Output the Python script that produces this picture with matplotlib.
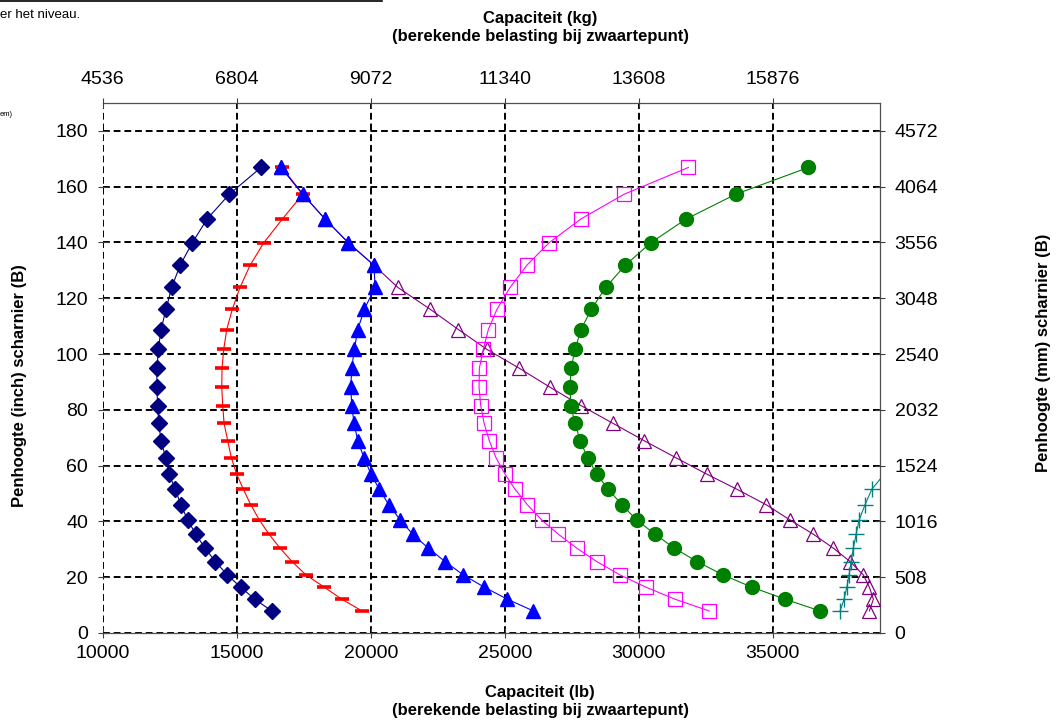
import matplotlib
matplotlib.use("Agg")
import matplotlib.pyplot as plt

plt.rcParams['font.family'] = ['Liberation Sans', 'DejaVu Sans']

# pen height (inch), shared by all load curves
height_in = [7.9, 12.1, 16.4, 20.8, 25.6, 30.4, 35.4, 40.5, 46.0, 51.5, 56.9, 62.8, 68.9,
             75.2, 81.5, 88.1, 94.9, 101.7, 108.8, 116.1, 123.9, 131.8, 139.9, 148.4, 157.3, 166.9]

# capacity (lb) per curve, bottom to top
cap_navy = [16305, 15671, 15149, 14649, 14201, 13817, 13470, 13171, 12910, 12709, 12474, 12350, 12175,
            12089, 12052, 12015, 12026, 12074, 12175, 12362, 12574, 12884, 13343, 13891, 14723, 15906]
cap_red = [19674, 18917, 18268, 17585, 17063, 16615, 16205, 15843, 15522, 15246, 15000, 14798, 14664,
           14526, 14477, 14440, 14451, 14514, 14626, 14835, 15123, 15496, 16007, 16701, 17462, 16690]
cap_blue = [26066, 25096, 24238, 23454, 22771, 22148, 21566, 21100, 20670, 20320, 20010, 19749, 19514,
            19376, 19290, 19253, 19290, 19388, 19515, 19761, 20160, 20122, 19164, 18294, 17462, 16652]
cap_purple = [38602, 38751, 38602, 38378, 37882, 37259, 36513, 35643, 34748, 33666, 32546, 31390, 30207,
              29028, 27845, 26689, 25543, 24327, 23268, 22212, 21007, 20122, 19164, 18294, 17462, 16652]
cap_magenta = [32621, 31352, 30270, 29300, 28431, 27685, 26998, 26379, 25842, 25383, 25010, 24674, 24424,
               24227, 24103, 24040, 24051, 24200, 24387, 24710, 25197, 25819, 26652, 27834, 29450, 31849]
cap_green = [36762, 35456, 34225, 33143, 32173, 31326, 30606, 29923, 29364, 28864, 28431, 28096, 27808,
             27622, 27461, 27435, 27472, 27622, 27845, 28230, 28767, 29487, 30446, 31763, 33617, 36326]
height_teal = [7.9, 12.1, 16.4, 20.8, 25.6, 30.4, 35.4, 40.5, 46.0, 51.5, 56.9]
cap_teal = [37509, 37658, 37759, 37845, 37919, 38005, 38106, 38218, 38441, 38691, 39150]

lb_ticks = [10000, 15000, 20000, 25000, 30000, 35000]
lb_labels = ['10000', '15000', '20000', '25000', '30000', '35000']
kg_labels = ['4536', '6804', '9072', '11340', '13608', '15876']
in_ticks = [0, 20, 40, 60, 80, 100, 120, 140, 160, 180]
mm_labels = ['0', '508', '1016', '1524', '2032', '2540', '3048', '3556', '4064', '4572']

fig = plt.figure(figsize=(10.58, 7.21), dpi=100)
ax = fig.add_axes([0.0971, 0.1221, 0.7347, 0.7350])

lw = 0.8
ax.plot(cap_navy, height_in, '-', color='#000080', lw=lw, marker='D', ms=8, zorder=3)
ax.plot(cap_red, height_in, '-', color='#FF0000', lw=lw, marker='_', ms=10, mew=2.6, zorder=3)
ax.plot(cap_purple, height_in, '-', color='#800080', lw=lw, marker='^', ms=10,
        mfc='none', mec='#800080', mew=0.9, zorder=3)
ax.plot(cap_blue, height_in, '-', color='#0000FF', lw=lw, marker='^', ms=10, zorder=3)
ax.plot(cap_magenta, height_in, '-', color='#FF00FF', lw=lw, marker='s', ms=9.5,
        mfc='none', mec='#FF00FF', mew=0.9, zorder=3)
ax.plot(cap_green, height_in, '-', color='#008000', lw=lw, marker='o', ms=10, zorder=3)
ax.plot(cap_teal, height_teal, '-', color='#008080', lw=lw, marker='+', ms=11, mew=1.0,
        markevery=list(range(len(cap_teal) - 1)), zorder=3)

ax.set_xlim(10000, 39000)
ax.set_ylim(0, 190)
ax.set_xticks(lb_ticks)
ax.set_xticklabels(lb_labels)
ax.set_yticks(in_ticks)
ax.grid(True, color='black', linestyle=(0, (3.5, 2)), linewidth=1.4)
ax.tick_params(direction='inout', length=7, width=0.8, color='#404040', labelsize=14)
ax.tick_params(axis='y', pad=7)
ax.tick_params(axis='x', pad=5)
ax.spines['left'].set_visible(False)
for s in ['top', 'right', 'bottom']:
    ax.spines[s].set_color('#505050')
    ax.spines[s].set_linewidth(0.9)

top = ax.twiny()
top.set_xlim(ax.get_xlim())
top.set_xticks(lb_ticks)
top.set_xticklabels(kg_labels)
top.tick_params(direction='inout', length=7, width=0.8, color='#404040', labelsize=14, pad=7)

right = ax.twinx()
right.set_ylim(ax.get_ylim())
right.set_yticks(in_ticks)
right.set_yticklabels(mm_labels)
right.tick_params(direction='inout', length=7, width=0.8, color='#404040', labelsize=14, pad=7)
for a in (top, right):
    for s in a.spines.values():
        s.set_visible(False)

# axis titles
fs = 12
fig.text(0.5104, 0.975, 'Capaciteit (kg)', ha='center', va='center', fontsize=fs, fontweight='bold')
fig.text(0.5104, 0.9487, '(berekende belasting bij zwaartepunt)', ha='center', va='center',
         fontsize=fs, fontweight='bold')
fig.text(0.5104, 0.0402, 'Capaciteit (lb)', ha='center', va='center', fontsize=fs, fontweight='bold')
fig.text(0.5104, 0.0139, '(berekende belasting bij zwaartepunt)', ha='center', va='center',
         fontsize=fs, fontweight='bold')
fig.text(0.018, 0.465, 'Penhoogte (inch) scharnier (B)', rotation=90, ha='center', va='center',
         fontsize=fs, fontweight='bold')
fig.text(0.986, 0.51, 'Penhoogte (mm) scharnier (B)', rotation=90, ha='center', va='center',
         fontsize=fs, fontweight='bold')

# fragments of the surrounding page
fig.add_artist(plt.Line2D([0, 0.361], [0.999, 0.999], color='black', lw=1.2))
fig.text(0.0, 0.979, 'er het niveau.', ha='left', va='center', fontsize=9.5)
fig.text(0.0, 0.841, 'em)', ha='left', va='center', fontsize=5.5)

fig.savefig('out.png', dpi=100)
